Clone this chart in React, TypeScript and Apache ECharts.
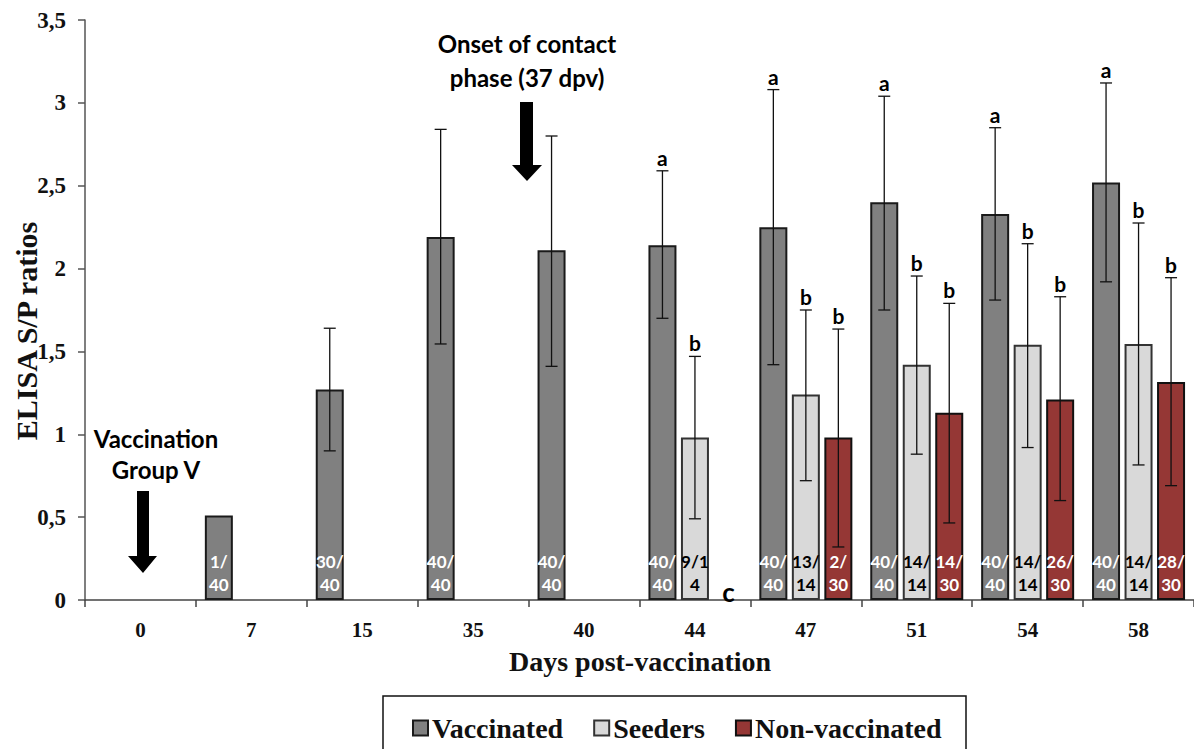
import React, { useEffect, useRef } from "react";
import * as echarts from "echarts";

const categories = ["0", "7", "15", "35", "40", "44", "47", "51", "54", "58"];

const vaccinated = [null, 0.51, 1.27, 2.19, 2.11, 2.14, 2.25, 2.4, 2.33, 2.52];
const vaccLow = [null, null, 0.9, 1.545, 1.41, 1.7, 1.42, 1.75, 1.81, 1.92];
const vaccHigh = [null, null, 1.64, 2.84, 2.8, 2.59, 3.08, 3.04, 2.85, 3.12];
const vaccLetters = ["", "", "", "", "", "a", "a", "a", "a", "a"];
const vaccCounts = ["", "1/\n40", "30/\n40", "40/\n40", "40/\n40", "40/\n40", "40/\n40", "40/\n40", "40/\n40", "40/\n40"];

const seeders = [null, null, null, null, null, 0.98, 1.24, 1.42, 1.54, 1.545];
const seedLow = [null, null, null, null, null, 0.49, 0.72, 0.88, 0.92, 0.815];
const seedHigh = [null, null, null, null, null, 1.47, 1.75, 1.955, 2.15, 2.275];
const seedLetters = ["", "", "", "", "", "b", "b", "b", "b", "b"];
const seedCounts = ["", "", "", "", "", "9/1\n4", "13/\n14", "14/\n14", "14/\n14", "14/\n14"];

const nonVacc = [null, null, null, null, null, null, 0.98, 1.13, 1.21, 1.315];
const nonLow = [null, null, null, null, null, null, 0.32, 0.465, 0.6, 0.69];
const nonHigh = [null, null, null, null, null, null, 1.635, 1.79, 1.83, 1.945];
const nonLetters = ["", "", "", "", "", "c", "b", "b", "b", "b"];
const nonCounts = ["", "", "", "", "", "", "2/\n30", "14/\n30", "26/\n30", "28/\n30"];

const yTicks = ["0", "0,5", "1", "1,5", "2", "2,5", "3", "3,5"];

const BAR_W = 28;
const GAP = 4.5;
const SANS = "Lato, 'Noto Sans', sans-serif";
const SERIF = "'Liberation Serif', 'DejaVu Serif', serif";

function errorSeries(
  low: (number | null)[],
  high: (number | null)[],
  letters: string[],
  offset: number
) {
  const data = categories.map((_, i) => [
    i,
    low[i] ?? 0,
    high[i] ?? 0,
    low[i] != null && high[i] != null ? 1 : 0,
  ]);
  return {
    type: "custom",
    z: 5,
    silent: true,
    data,
    renderItem: (params: any, api: any) => {
      const i = api.value(0);
      const has = api.value(3) === 1;
      const base = api.coord([i, 0]);
      const x = base[0] + offset;
      const children: any[] = [];
      let letterY = base[1] + 5;
      if (has) {
        const yLo = api.coord([i, api.value(1)])[1];
        const yHi = api.coord([i, api.value(2)])[1];
        const st = { stroke: "#111", lineWidth: 1.3 };
        children.push({ type: "line", shape: { x1: x, y1: yLo, x2: x, y2: yHi }, style: st });
        children.push({ type: "line", shape: { x1: x - 6, y1: yLo, x2: x + 6, y2: yLo }, style: st });
        children.push({ type: "line", shape: { x1: x - 6, y1: yHi, x2: x + 6, y2: yHi }, style: st });
        letterY = yHi - 3;
      }
      const letter = letters[i];
      if (letter) {
        children.push({
          type: "text",
          style: {
            text: letter,
            x: letter === "c" ? x + 1 : x,
            y: letterY,
            align: "center",
            verticalAlign: "bottom",
            font: `bold ${letter === "c" ? 26 : 21}px ${SANS}`,
            fill: "#000",
          },
        });
      }
      return { type: "group", children };
    },
  };
}

function barSeries(
  name: string,
  values: (number | null)[],
  counts: string[],
  color: string,
  border: string,
  labelColor: string
) {
  return {
    name,
    type: "bar",
    data: values,
    barWidth: BAR_W,
    barGap: `${(GAP / BAR_W) * 100}%`,
    itemStyle: { color, borderColor: border, borderWidth: 2 },
    label: {
      show: true,
      position: "insideBottom",
      distance: 4,
      formatter: (p: any) => counts[p.dataIndex] || "",
      color: labelColor,
      fontFamily: SANS,
      fontWeight: "bold",
      fontSize: 17,
      lineHeight: 23,
    },
  };
}

export default function App() {
  const ref = useRef<HTMLDivElement>(null);

  useEffect(() => {
    if (!ref.current) return;
    const chart = echarts.init(ref.current, null, { renderer: "svg" });
    const off = BAR_W + GAP;
    const option: any = {
      animation: false,
      backgroundColor: "#fff",
      grid: { left: 85, right: -1, top: 20, bottom: 149 },
      legend: {
        left: 407,
        top: 709,
        icon: "rect",
        itemWidth: 15,
        itemHeight: 15,
        itemGap: 30,
        data: ["Vaccinated", "Seeders", "Non-vaccinated"],
        textStyle: { fontFamily: SERIF, fontWeight: "bold", fontSize: 28, color: "#111", padding: [0, 0, 0, -1] },
      },
      xAxis: {
        type: "category",
        data: categories,
        axisLine: { lineStyle: { color: "#444", width: 1.5 } },
        axisTick: { show: true, length: 7, lineStyle: { color: "#444", width: 1.5 } },
        axisLabel: { margin: 19, fontFamily: SERIF, fontWeight: "bold", fontSize: 21, color: "#111" },
      },
      yAxis: {
        type: "value",
        min: 0,
        max: 3.5,
        interval: 0.5,
        splitLine: { show: false },
        axisLine: { show: true, lineStyle: { color: "#555", width: 1.5 } },
        axisTick: { show: true, length: 7, lineStyle: { color: "#555", width: 1.5 } },
        axisLabel: {
          margin: 19,
          fontFamily: SERIF,
          fontWeight: "bold",
          fontSize: 23,
          color: "#111",
          formatter: (v: number) => yTicks[Math.round(v / 0.5)] ?? String(v),
        },
      },
      series: [
        barSeries("Vaccinated", vaccinated, vaccCounts, "#808080", "#1a1a1a", "#fff"),
        barSeries("Seeders", seeders, seedCounts, "#d9d9d9", "#333", "#000"),
        barSeries("Non-vaccinated", nonVacc, nonCounts, "#953735", "#111", "#fff"),
        errorSeries(vaccLow, vaccHigh, vaccLetters, -off),
        errorSeries(seedLow, seedHigh, seedLetters, 0),
        errorSeries(nonLow, nonHigh, nonLetters, off),
      ],
      graphic: [
        {
          type: "text",
          x: 26,
          y: 331,
          rotation: Math.PI / 2,
          style: {
            text: "ELISA S/P ratios",
            font: `bold 30px ${SERIF}`,
            fill: "#111",
            align: "center",
            verticalAlign: "middle",
          },
        },
        {
          type: "text",
          x: 640,
          y: 661,
          style: {
            text: "Days post-vaccination",
            font: `bold 28px ${SERIF}`,
            fill: "#111",
            align: "center",
            verticalAlign: "middle",
          },
        },
        {
          type: "text",
          x: 156,
          y: 454,
          style: {
            text: "Vaccination\nGroup V",
            font: `bold 24px ${SANS}`,
            lineHeight: 31,
            fill: "#000",
            align: "center",
            verticalAlign: "middle",
          },
        },
        {
          type: "text",
          x: 527,
          y: 60,
          style: {
            text: "Onset of contact\nphase (37 dpv)",
            font: `bold 24px ${SANS}`,
            lineHeight: 34,
            fill: "#000",
            align: "center",
            verticalAlign: "middle",
          },
        },
        {
          type: "polygon",
          shape: {
            points: [
              [137, 491], [149, 491], [149, 556], [157, 556], [143, 573], [128, 556], [137, 556],
            ],
          },
          style: { fill: "#000" },
        },
        {
          type: "polygon",
          shape: {
            points: [
              [520, 102], [533, 102], [533, 165], [542, 165], [527, 181], [512, 165], [520, 165],
            ],
          },
          style: { fill: "#000" },
        },
        {
          type: "rect",
          shape: { x: 383, y: 696, width: 583, height: 80 },
          style: { fill: "none", stroke: "#111", lineWidth: 1.5 },
          z: -1,
        },
      ],
    };
    chart.setOption(option);
    return () => chart.dispose();
  }, []);

  return (
    <div
      ref={ref}
      style={{ position: "absolute", left: 0, top: 0, width: 1194, height: 749 }}
    />
  );
}
